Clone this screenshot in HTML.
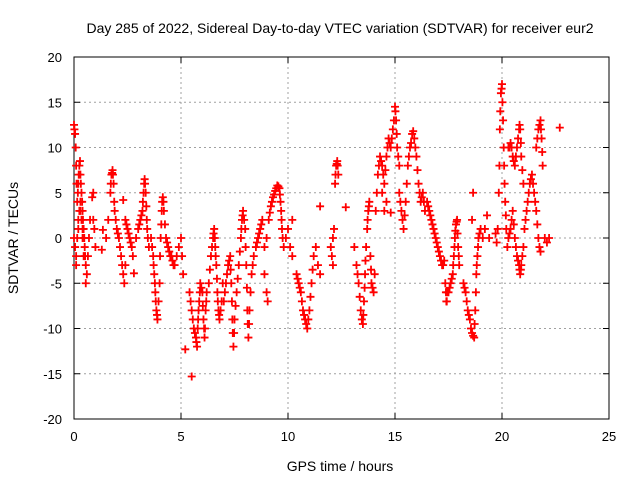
<!DOCTYPE html>
<html><head><meta charset="utf-8"><style>
html,body{margin:0;padding:0;background:#fff}
svg{display:block;font-family:"Liberation Sans",sans-serif}
</style></head><body>
<svg id="chart" width="640" height="480" viewBox="0 0 640 480">
<rect width="640" height="480" fill="#fff"/>
<text x="340" y="33" font-size="14" text-anchor="middle">Day 285 of 2022, Sidereal Day-to-day VTEC variation (SDTVAR) for receiver eur2</text>
<g id="grid"></g>
<g id="axes"></g>
<g id="marks"></g>
<text x="340" y="471" font-size="14" text-anchor="middle">GPS time / hours</text>
<text x="18" y="238" font-size="14" text-anchor="middle" transform="rotate(-90 18 238)">SDTVAR / TECUs</text>
</svg>
<script>
const xTicks=[0,5,10,15,20,25];
const yTicks=[-20,-15,-10,-5,0,5,10,15,20];
const times=[0,0.05,0.1,0.15,0.2,0.25,0.3,0.35,0.4,0.45,0.5,0.55,0.6,
0,0.05,0.1,0.15,0.2,0.25,0.3,0.35,0.4,0.45,
0.55,0.6,0.65,0.7,0.75,0.85,0.9,0.9,0.95,1.0,1.3,1.35,
1.5,1.6,1.7,1.75,1.8,1.85,1.9,2.0,2.1,2.2,2.3,2.35,2.4,
2.3,2.4,2.5,2.6,2.7,2.8,
3.0,3.1,3.2,3.25,3.3,3.35,3.4,3.45,3.5,
3.6,3.7,3.75,3.8,3.85,3.9,4.0,4.05,4.1,4.15,4.2,4.3,4.4,4.5,4.6,4.7,
4.8,4.9,5.0,5.05,5.1,5.2,5.5,
5.4,5.5,5.6,5.7,5.75,5.8,5.85,5.9,6.0,6.05,6.1,6.15,6.2,
6.3,6.4,6.5,6.55,6.6,6.65,6.7,6.75,6.8,6.9,6.95,
7.0,7.1,7.2,7.3,7.35,7.4,7.45,7.5,
7.6,7.7,7.8,7.85,7.9,8.0,8.05,8.1,8.15,8.2,8.3,8.4,
8.5,8.6,8.7,8.8,8.9,9.0,9.1,9.2,9.3,9.4,9.5,9.6,9.65,9.7,9.75,9.8,
8.9,9.0,9.05,9.9,10.0,10.1,10.2,10.2,
10.4,10.5,10.6,10.7,10.8,10.9,11.0,11.1,11.2,11.3,11.4,11.5,11.5,
12.0,12.05,12.1,12.1,12.15,12.2,12.25,12.3,12.35,12.7,
13.1,13.2,13.3,13.4,13.5,13.55,13.6,13.65,13.7,13.75,13.8,13.85,13.9,14.0,14.05,
14.1,14.2,14.3,14.4,14.5,14.6,14.7,14.8,14.9,15.0,15.05,15.1,15.2,14.4,14.5,14.6,14.8,
15.2,15.3,15.4,15.5,15.6,15.7,15.8,15.9,16.0,16.1,16.2,16.3,16.4,
16.5,16.6,16.7,16.8,16.9,17.0,17.1,17.2,17.3,17.35,17.4,17.45,
17.5,17.6,17.7,17.75,17.8,17.85,17.9,17.95,18.0,
18.2,18.3,18.4,18.5,18.6,18.7,18.75,18.8,18.85,18.9,19.0,18.6,18.65,
19.1,19.2,19.3,19.4,19.7,19.75,
19.8,19.85,19.9,19.95,20.0,20.05,20.1,20.15,20.2,20.25,
20.3,20.4,20.5,20.6,20.7,20.8,20.85,20.9,21.0,
20.3,20.4,20.5,20.6,20.7,20.8,20.85,20.9,21.0,
21.1,21.2,21.3,21.4,21.5,21.6,21.7,21.75,21.8,21.6,21.7,21.8,21.85,21.9,
22.0,22.1,22.2,22.7];
const values=[12.5,11.5,8,4,6,8,7,5,3,1,-1,-3,-4,
0,-1,-2,0,2,3,4,2,0,-2,
-5,-4,-2,0,2,4.5,5,2,1,-1,-1.3,0.9,
0,2,5,7,7.5,6,3,1,0,-2,-4,-5,-3,
4.2,2,1,0,-1,-3.9,
1,2,3,5,6.5,5,2,0,-1,
0,-2,-4,-6,-8,-9,-5,0,3,4.5,3,0,-1,-2,-2.5,-3,
-2,-1,0,-2,-4,-12.3,-15.3,
-6,-8,-10,-11,-12,-9,-7,-5,-6,-9,-11,-8,-6,
-5,-2,0,1,-1,-3,-6,-8,-9,-7,-5,
-7,-5,-3,-2,-5,-9,-12,-9,
-6,-3,0,2,3,1,-3,-8,-11,-8,-4,-2,
-1,0,1,2,-1,0,2,3.5,4.5,5.2,5.8,5.5,4,2,0,-1,
-4,-6,-7,0,1,-1,2,-2,
-4,-5,-6,-8,-9,-10,-8,-5,-2,-1,-3,-4,3.5,
-1,-2,0,-3,1,6,8,8.5,7,3.4,
-1,-3,-5,-8,-9.5,-7,-4,-1,1,3,4,-2,-5,-6,-4,
3,7,9,8,6,9,11,10,12,14.5,13,10,8,5,3,4,2.8,
5,3,1,4,8,10,11.5,11,9,6,4,5,3,
4,3,2,1,0,-1,-2,-3,-2.5,-5,-7,-6,
-6,-5,-4,-2,0,1.5,2,-1,-3,
-5,-6,-8,-9,-10.5,-11,-8,-4,-2,0,1,2,5,
0,1,2.5,0,0.5,-0.5,
1,5,12,16,17,13,8,4,1,-1,
10,10.5,9,8,10,12,12,9,6,
0,1,3,0,-2,-3,-4,-3,-1,
2,4,6,7,5,3,0,-1,-1.5,10,12,13,11,8,
0,-0.5,0,12.2];
const times2=[0.02,0.08,0.12,0.18,0.22,0.28,0.32,0.38,0.42,0.48,0.52,0.1,0.2,0.3,0.4,
1.72,1.78,1.82,1.88,1.95,2.05,2.15,2.25,2.45,2.55,2.65,2.75,2.9,
3.05,3.15,3.22,3.28,3.32,3.38,3.42,
3.65,3.72,3.78,3.82,3.88,3.95,4.02,4.08,4.12,4.18,4.25,4.35,4.45,4.55,4.65,
5.45,5.55,5.65,5.72,5.78,5.82,5.88,5.95,6.02,6.08,6.12,6.18,
6.35,6.45,6.52,6.58,6.62,6.68,6.72,6.78,6.85,
7.05,7.15,7.25,7.32,7.38,7.42,7.48,7.55,
7.65,7.75,7.82,7.88,7.95,8.02,8.08,8.12,8.18,8.25,8.35,
8.55,8.65,8.75,9.15,9.25,9.35,9.45,9.55,9.62,9.68,9.72,
10.45,10.55,10.65,10.75,10.85,10.95,11.05,11.15,
12.22,12.28,12.32,
13.25,13.35,13.45,13.52,13.58,13.62,13.72,13.78,13.88,13.95,
14.15,14.25,14.35,14.45,14.55,14.65,14.75,14.85,14.95,15.02,15.08,15.15,
15.25,15.35,15.45,15.55,15.65,15.75,15.85,15.95,16.05,16.15,16.25,16.35,
16.55,16.65,16.75,16.85,16.95,17.05,17.15,17.25,17.38,17.42,
17.55,17.65,17.72,17.78,17.82,17.88,17.92,17.98,
18.25,18.35,18.45,18.55,18.65,18.72,18.78,18.82,18.88,18.95,
19.88,19.92,19.98,20.02,20.08,20.12,20.18,
20.35,20.45,20.55,20.65,20.75,20.82,20.88,20.95,
20.35,20.45,20.55,20.65,20.75,20.82,20.88,20.95,
21.05,21.15,21.25,21.35,21.45,21.55,21.65,21.65,21.75,21.82,21.88];
const values2=[12,10,6,5,7,8.5,6,4,2,0,-2,-3,1,3,1,
6,7.2,7,4,2,0.5,-1,-3,1.5,0.5,-0.5,-2,0,
1.5,2.5,4,6,6,3.5,1,
-1,-3,-5,-7,-8.5,-7,-2,1.5,4,4,1.5,-0.5,-1.5,-2,-3,
-7,-9,-10.5,-11.5,-10,-8,-6,-5.5,-7.5,-10,-10,-7,
-3.5,-1,0.5,0,-2,-4.5,-7,-8.5,-8,
-6,-4,-2.5,-3.5,-7,-10.5,-10.5,-7.5,
-4.5,-1.5,1,2.5,2,-1,-5.5,-9.5,-9.5,-6,-3,
-0.5,0.5,1.5,2.8,4,4.8,5.5,5.7,4.8,3,1,
-4.5,-5.5,-7,-8.5,-9.5,-9,-6.5,-3.5,
7,8.2,8,
-4,-6.5,-9,-8.5,-5.5,-2.5,2,3.5,-3.5,-5.5,
5,8,8.5,7,7.5,10,10.5,11,13,14,11.5,9,
4,2,2.5,6,9,10.5,11.8,10,7.5,5,4.5,4,
3.5,2.5,1.5,0.5,-0.5,-1.5,-2.5,-3,-6,-7,
-5.5,-4.5,-3,-1,0.8,1.8,0.5,-2,
-5.5,-7,-8.5,-10,-10.8,-9.5,-6,-3,-1,0.5,
8,14,16.5,15,10,6,2.5,
10,10,8.5,9,11,12.5,10.5,7.5,
0.5,2,1.5,-1,-2.5,-3.5,-3.5,-2,
1,3,5,6.5,6,4,1.5,11,12.5,12,9.5];
const L=74,R=609,T=57,B=419;
const xs=t=>L+(t-0)/(25-0)*(R-L);
const ys=v=>B-(v+20)/40*(B-T);
const NS="http://www.w3.org/2000/svg";
const grid=document.getElementById('grid'),axes=document.getElementById('axes'),marks=document.getElementById('marks');
function mk(tag,attrs,parent){const e=document.createElementNS(NS,tag);for(const k in attrs)e.setAttribute(k,attrs[k]);parent.appendChild(e);return e;}
xTicks.forEach(t=>{
  const x=xs(t);
  if(t>0&&t<25){const g=mk('line',{x1:x,x2:x,y1:T,y2:B,stroke:'#a0a0a0','stroke-dasharray':'2,3'},grid);
  
  }
  mk('line',{x1:x,x2:x,y1:B,y2:B-6,stroke:'#000'},axes);
  mk('line',{x1:x,x2:x,y1:T,y2:T+6,stroke:'#000'},axes);
  const lb=mk('text',{x:x,y:B+22,'font-size':13,'text-anchor':'middle'},axes);
  lb.textContent=t;
  
  
});
yTicks.forEach(v=>{
  const y=ys(v);
  if(v>-20&&v<20){const g=mk('line',{x1:L,x2:R,y1:y,y2:y,stroke:'#a0a0a0','stroke-dasharray':'2,3'},grid);
  
  }
  mk('line',{x1:L,x2:L+6,y1:y,y2:y,stroke:'#000'},axes);
  mk('line',{x1:R,x2:R-6,y1:y,y2:y,stroke:'#000'},axes);
  const lb=mk('text',{x:L-12,y:y+5,'font-size':13,'text-anchor':'end'},axes);
  lb.textContent=v;
  
  
});
const fr=mk('rect',{x:L,y:T,width:R-L,height:B-T,fill:'none',stroke:'#000'},axes);


function plusPath(ts,vs){
  let d='';
  for(let i=0;i<ts.length;i++){
    const x=xs(ts[i]),y=ys(vs[i]);
    d+=`M${x-4},${y}h8M${x},${y-4}v8`;
  }
  return d;
}
const p=mk('path',{d:plusPath(times,values),stroke:'#ff0000','stroke-width':1.8,fill:'none'},marks);


const p2=mk('path',{d:plusPath(times2,values2),stroke:'#ff0000','stroke-width':1.8,fill:'none'},marks);


</script>
</body></html>
